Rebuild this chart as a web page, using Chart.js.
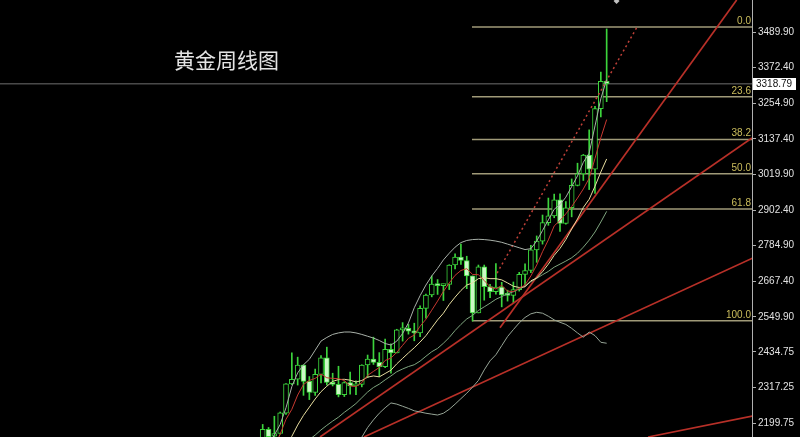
<!DOCTYPE html>
<html><head><meta charset="utf-8">
<script src="https://cdn.jsdelivr.net/npm/chart.js@4.4.1/dist/chart.umd.min.js"></script>
<style>html,body{margin:0;padding:0;background:#000;}canvas{display:block;}</style>
</head><body>
<canvas id="c" width="800" height="437"></canvas>
<script>
const chartTitle = '黄金周线图';
// weekly candles, index 0 = first visible week
const openP  = [2083,2179,2156,2165,2232,2329,2344,2391,2337,2301, 2360,2415,2334,2327,2293,2333,2322,2327,2391,2411, 2400,2386,2443,2431,2507,2512,2503,2497,2578,2622, 2658,2653,2657,2721,2747,2736,2685,2563,2715,2650, 2633,2648,2622,2621,2640,2690,2703,2771,2800,2861, 2883,2936,2858,2910,2984,3022,3084,3037,3237,3327];
const highP  = [2195,2185,2222,2236,2330,2431,2417,2392,2353,2378, 2422,2450,2364,2387,2336,2368,2339,2392,2424,2483, 2432,2477,2461,2509,2531,2525,2529,2586,2625,2685, 2673,2658,2722,2758,2790,2750,2685,2721,2721,2657, 2726,2664,2638,2665,2697,2725,2786,2817,2886,2942, 2955,2956,2930,3005,3057,3086,3167,3245,3358,3500];
const lowP   = [2079,2146,2146,2163,2228,2326,2325,2291,2277,2291, 2332,2325,2322,2286,2287,2295,2293,2319,2350,2393, 2353,2382,2364,2431,2470,2493,2471,2485,2546,2616, 2624,2604,2640,2708,2723,2643,2536,2563,2605,2613, 2625,2583,2602,2596,2635,2656,2696,2730,2790,2852, 2877,2832,2856,2880,2982,3000,2970,2957,3210,3260];
const closeP = [2179,2155,2165,2233,2329,2344,2391,2337,2301,2360, 2415,2334,2327,2293,2333,2322,2327,2391,2411,2400, 2386,2443,2431,2507,2512,2503,2497,2578,2622,2658, 2653,2657,2721,2747,2736,2685,2563,2715,2650,2633, 2648,2622,2621,2640,2690,2703,2771,2800,2861,2883, 2936,2858,2910,2984,3022,3084,3037,3237,3327,3319];

// indicator lines
const maRed    = [2065,2091,2121,2163,2212,2245,2292,2327,2340,2347, 2361,2349,2347,2346,2340,2322,2320,2333,2357,2370, 2383,2406,2414,2433,2456,2479,2490,2519,2542,2572, 2602,2634,2662,2687,2703,2709,2690,2689,2670,2649, 2642,2654,2635,2633,2644,2655,2685,2721,2765,2804, 2850,2868,2890,2914,2942,2972,3007,3073,3141,3201];
const maYellow = [2052,2062,2074,2094,2126,2156,2193,2225,2252,2279, 2303,2321,2337,2343,2344,2341,2335,2340,2351,2355, 2352,2363,2374,2395,2413,2431,2448,2467,2488,2514, 2540,2562,2591,2615,2637,2655,2662,2676,2679,2676, 2676,2672,2662,2651,2647,2649,2669,2678,2699,2724, 2753,2776,2805,2840,2873,2911,2938,2981,3028,3071];
const maGreen  = [2032,2040,2050,2065,2082,2098,2114,2130,2145,2160, 2177,2192,2206,2219,2235,2249,2264,2283,2302,2317, 2328,2342,2355,2369,2378,2386,2392,2404,2420,2435, 2446,2463,2482,2505,2525,2543,2555,2571,2583,2595, 2608,2617,2626,2633,2642,2652,2666,2677,2689,2700, 2714,2724,2734,2745,2760,2780,2803,2830,2863,2898];
const bandUpper = [2095,2130,2160,2195,2250,2320,2365,2392,2410,2440, 2470,2482,2492,2497,2500,2500,2497,2492,2486,2480, 2472,2462,2457,2470,2495,2530,2580,2620,2655,2685, 2710,2738,2760,2780,2795,2802,2805,2806,2805,2803, 2800,2796,2790,2784,2778,2772,2775,2800,2835,2870, 2905,2920,2945,2980,3015,3060,3090,3180,3270,3333];
const bandLower = [1970,1975,1980,1985,1990,1995,2000,2005,2010,2015, 2025,2040,2055,2070,2085,2100,2120,2153,2185,2210, 2232,2250,2266,2262,2255,2248,2240,2236,2232,2229, 2226,2232,2245,2262,2280,2298,2318,2340,2375,2405, 2425,2455,2485,2508,2530,2548,2560,2565,2562,2552, 2540,2532,2525,2512,2497,2483,2500,2488,2466,2463];

// straight trend lines: [week index, price] endpoints
const trendA = [[40.7,2514],[81.3,3595.5]];
const trendB = [[9.83,2153.6],[83.93,3140]];
const trendC = [[17.37,2153.6],[84.05,2744]];
const trendD = [[66.1,2153.6],[84.05,2222.8]];
const trendDotted = [[40.2,2694.6],[64.2,3506]];

// fibonacci retracement
const fibLevels = [3506,3276,3135,3022,2906,2537];
const fibLabels = ['0.0','23.6','38.2','50.0','61.8','100.0'];
const fibStart = 35.9;

const lastPrice = 3318.79;
const yTicks = [3489.90,3372.40,3254.90,3137.40,3019.90,2902.40,2784.90,2667.40,2549.90,2434.75,2317.25,2199.75];
const marker = [[60.7,3592]];

const xMin = -45.06, xMax = 83.93, yMin = 2153.56, yMax = 3595.49;

const green = '#3cd43c';
const bearFill = '#cdf7c6';

const line = (arr, color, w, order) => ({
  type:'line', data: arr.map((v,i)=>({x:i,y:v})), borderColor:color, borderWidth:w,
  pointRadius:0, pointHoverRadius:0, fill:false, tension:0, order:order
});
const seg = (pts, color, w, dash, order) => ({
  type:'line', data: pts.map(p=>({x:p[0],y:p[1]})), borderColor:color, borderWidth:w,
  borderDash: dash || [], pointRadius:0, pointHoverRadius:0, fill:false, tension:0, order:order
});

const datasets = [];
datasets.push(line(maRed, '#c83830', 1, 0));
datasets.push(line(maYellow, '#e8dea0', 1, 0));
datasets.push(line(maGreen, '#7fa57f', 1, 0));
datasets.push(line(bandUpper, '#a9b1a9', 1, 0));
datasets.push(line(bandLower, '#97a597', 1, 0));
[trendA, trendB, trendC, trendD].forEach(t => datasets.push(seg(t, '#b83028', 1.7, null, 0)));
datasets.push(seg(trendDotted, '#c04038', 1.5, [2,3], 0));
datasets.push({
  type:'bar', data: openP.map((o,i)=>({x:i, y:[o, closeP[i]]})),
  backgroundColor: openP.map((o,i)=> closeP[i] >= o ? '#000000' : bearFill),
  borderColor: green, borderWidth:1, borderSkipped:false, barThickness:5,
  grouped:false, minBarLength:2, order:1
});
datasets.push({
  type:'bar', data: highP.map((h,i)=>({x:i, y:[lowP[i], h]})),
  backgroundColor: green, borderWidth:0, barThickness:1, grouped:false, order:2
});
fibLevels.forEach(lv => datasets.push(seg([[fibStart,lv],[xMax,lv]], '#a09a78', 1.5, null, 3)));
datasets.push(seg([[xMin,lastPrice],[xMax,lastPrice]], '#707070', 1, null, 3));
datasets.push({
  type:'line', data: marker.map(p=>({x:p[0],y:p[1]})), showLine:false,
  pointRadius:3, pointHoverRadius:3, pointStyle:'rectRot', pointBackgroundColor:'#c0c0c0', pointBorderWidth:0, order:0
});

const bgPlugin = {id:'bg', beforeDraw(ch){const c=ch.ctx; c.save(); c.fillStyle='#000'; c.fillRect(0,0,ch.width,ch.height); c.restore();}};
const textPlugin = {id:'txt', afterDraw(ch){
  const c = ch.ctx, ys = ch.scales.y, a = ch.chartArea;
  c.save();
  c.font = '21px "Noto Sans CJK SC"'; c.fillStyle = '#e4e4e4';
  c.textBaseline = 'middle'; c.textAlign = 'left';
  c.fillText(chartTitle, 174, 60);
  c.font = '10px "Liberation Sans"'; c.fillStyle = '#cbbd5c';
  c.textAlign = 'right'; c.textBaseline = 'bottom';
  fibLevels.forEach((v,k) => c.fillText(fibLabels[k], a.right - 1, ys.getPixelForValue(v) - 1));
  const py = Math.round(ys.getPixelForValue(lastPrice));
  c.fillStyle = '#ffffff'; c.fillRect(a.right + 1, py - 6, 43, 12);
  c.fillStyle = '#111'; c.textAlign = 'left'; c.textBaseline = 'middle';
  c.fillText(lastPrice.toFixed(2), a.right + 4, py + 0.5);
  c.restore();
}};

new Chart(document.getElementById('c'), {
  type:'bar',
  data:{datasets},
  options:{
    responsive:false, animation:false, devicePixelRatio:1,
    layout:{padding:0, autoPadding:false},
    plugins:{legend:{display:false}, tooltip:{enabled:false}},
    scales:{
      x:{type:'linear', min:xMin, max:xMax, display:false, offset:false},
      y:{type:'linear', position:'right', min:yMin, max:yMax,
        afterBuildTicks: s => { s.ticks = yTicks.map(v=>({value:v})); },
        afterFit: s => { s.width = 48; s.paddingTop = 0; s.paddingBottom = 0; },
        ticks:{color:'#e2e2e2', font:{family:'Liberation Sans', size:10}, padding:2, autoSkip:false,
          callback: v => Number(v).toFixed(2)},
        grid:{drawOnChartArea:false, drawTicks:true, tickLength:4, color:'#b0b0b0'},
        border:{display:true, color:'#b0b0b0'}
      }
    }
  },
  plugins:[bgPlugin, textPlugin]
});
</script>
</body></html>
